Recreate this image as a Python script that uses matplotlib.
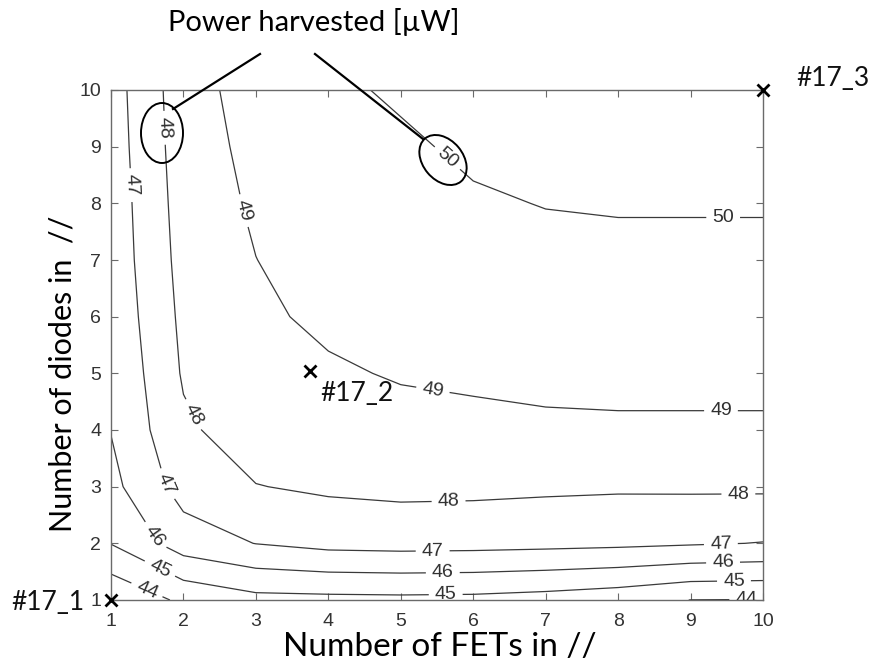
import numpy as np
import matplotlib.pyplot as plt
from matplotlib.patches import Ellipse
from matplotlib.lines import Line2D

plt.rcParams["font.family"] = ["Liberation Sans", "DejaVu Sans"]
label_font = ["Lato", "DejaVu Sans"]

# grid of the simulation: number of FETs (x) and number of diodes (y) in parallel
n_fets = [1, 2, 3, 4, 5, 6, 7, 8, 9, 10]
n_diodes = [1, 2, 3, 4, 5, 6, 7, 8, 9, 10]

# power harvested [uW], one list per number of diodes, values for FETs = 1..10
power_d1 = [43.13, 44.20, 44.70, 44.74, 44.77, 44.74, 44.60, 44.38, 43.99, 43.97]
power_d2 = [45.03, 46.50, 47.02, 47.30, 47.36, 47.33, 47.27, 47.20, 47.09, 46.97]
power_d3 = [45.72, 47.40, 47.97, 48.15, 48.24, 48.22, 48.16, 48.12, 48.14, 48.15]
power_d4 = [46.03, 47.83, 48.51, 48.60, 48.72, 48.75, 48.85, 48.85, 48.85, 48.85]
power_d5 = [46.10, 48.10, 48.70, 48.89, 49.07, 49.17, 49.22, 49.29, 49.29, 49.29]
power_d6 = [46.26, 48.22, 48.85, 49.17, 49.30, 49.45, 49.45, 49.50, 49.50, 49.50]
power_d7 = [46.37, 48.33, 48.99, 49.40, 49.50, 49.70, 49.64, 49.70, 49.70, 49.70]
power_d8 = [46.42, 48.42, 49.14, 49.50, 49.65, 49.85, 50.04, 50.10, 50.10, 50.10]
power_d9 = [46.50, 48.50, 49.28, 49.60, 49.80, 50.23, 50.30, 50.30, 50.30, 50.30]
power_d10 = [46.56, 48.56, 49.44, 49.75, 50.18, 50.30, 50.35, 50.40, 50.40, 50.40]
levels = [44, 45, 46, 47, 48, 49, 50]

# fabricated designs
designs = ["#17_1", "#17_2", "#17_3"]
design_fets = [1, 3.75, 10]
design_diodes = [1, 5.05, 10]

power = np.array([power_d1, power_d2, power_d3, power_d4, power_d5,
                  power_d6, power_d7, power_d8, power_d9, power_d10])

W, H = 871, 666
fig = plt.figure(figsize=(W / 100, H / 100), dpi=100, facecolor="w")
ax = fig.add_axes([111 / W, 1 - 600 / H, (763 - 111) / W, (600 - 90) / H])

cs = ax.contour(n_fets, n_diodes, power, levels=levels, colors="#3a3a3a", linewidths=0.9)
# where the labels sit along the lines
label_pos = [(1.68, 9.33), (1.26, 8.32), (2.83, 7.87), (5.59, 8.72), (9.45, 7.73),
             (5.44, 4.68), (9.42, 4.33), (2.13, 4.27), (5.66, 2.73), (9.66, 2.85),
             (1.79, 3.05), (5.44, 1.88), (9.42, 1.93), (1.58, 2.11), (5.58, 1.49),
             (9.45, 1.58), (1.65, 1.49), (5.62, 1.13), (9.6, 1.28), (1.51, 1.22),
             (9.77, 1.01)]
ax.clabel(cs, manual=label_pos, inline=True, inline_spacing=6, fmt="%d",
          fontsize=14, colors="#303030")

# design points
ax.plot(design_fets, design_diodes, "x", color="k", ms=8, mew=2, clip_on=False, zorder=5)
offsets = [(-27, -2, "right"), (10, -23, "left"), (33, 12, "left")]
for name, fx, dy, (ox, oy, ha) in zip(designs, design_fets, design_diodes, offsets):
    ax.annotate(name, xy=(fx, dy), xytext=(ox, oy), textcoords="offset pixels",
                ha=ha, va="center", fontsize=19, family=label_font, color="#111111")

ax.set_xlim(1, 10)
ax.set_ylim(1, 10)
ax.set_xticks(n_fets)
ax.set_yticks(n_diodes)
ax.tick_params(direction="in", top=True, right=True, length=5, width=0.8,
               color="#6a6a6a", labelsize=14, labelcolor="#333333")
ax.tick_params(axis="x", pad=9)
ax.tick_params(axis="y", pad=7)
for sp in ax.spines.values():
    sp.set_color("#6a6a6a")
    sp.set_linewidth(1.0)

ax.set_xlabel("Number of FETs in //", family=label_font, fontsize=24, va="top")
ax.xaxis.set_label_coords(0.505, -0.062)
ax.set_ylabel("Number of diodes in  //", family=label_font, fontsize=22, va="center")
ax.yaxis.set_label_coords(-0.074, 0.443)

# callout for the contour labels
fig.text(314 / W, 1 - 22 / H, "Power harvested [\u00b5W]", ha="center", va="center",
         fontsize=21, family=label_font)
px = fig.dpi_scale_trans
fig.add_artist(Line2D([2.60, 1.73], [(H - 54) / 100, (H - 109) / 100], transform=px,
                      color="k", lw=1.6))
fig.add_artist(Line2D([3.15, 4.23], [(H - 54) / 100, (H - 139) / 100], transform=px,
                      color="k", lw=1.6))
fig.add_artist(Ellipse((1.62, (H - 133) / 100), 0.42, 0.60, angle=0, transform=px,
                       fill=False, ec="k", lw=1.4))
fig.add_artist(Ellipse((4.43, (H - 160) / 100), 0.40, 0.56, angle=40, transform=px,
                       fill=False, ec="k", lw=1.4))

fig.savefig("out.png", dpi=100)
